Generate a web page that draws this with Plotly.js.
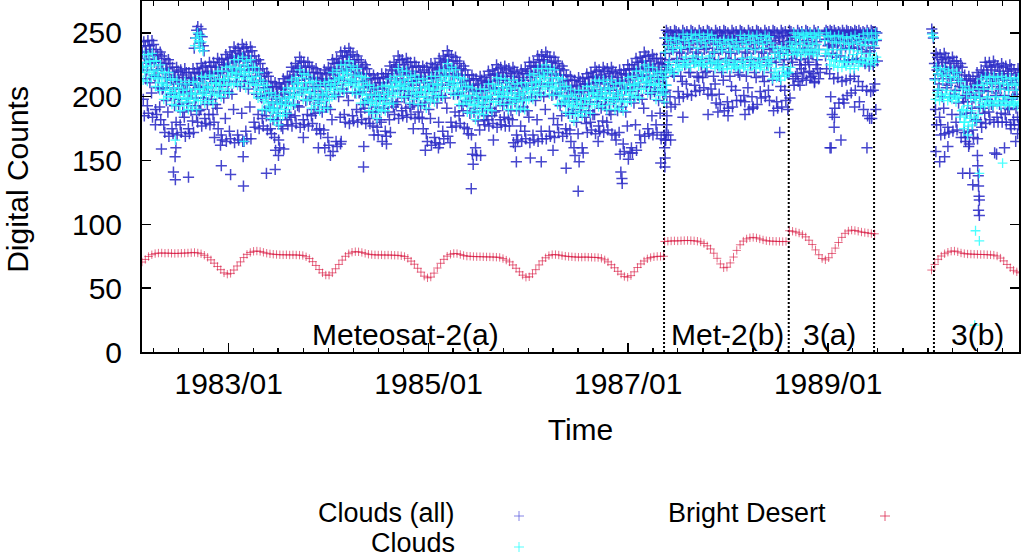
<!DOCTYPE html>
<html><head><meta charset="utf-8">
<script src="https://cdn.plot.ly/plotly-3.0.1.min.js"></script>
<style>html,body{margin:0;padding:0;background:#fff;}#chart{width:1024px;height:558px;}</style>
</head><body><div id="chart"></div>
<script>
// ---------------- DATA ----------------
const segmentLabels = ['Meteosat-2(a)', 'Met-2(b)', '3(a)', '3(b)'];
const segmentLabelDates = ['1984-10-07', '1987-12-30', '1989-01-07', '1990-07-01'];
const segmentBreaks = ['1987-05-12', '1988-08-10', '1989-06-18', '1990-01-23'];

// Bright desert: one reading every 12 days from each segment start
const desertStarts = ['1982-02-18', '1987-05-14', '1988-08-12', '1990-01-14'];
const desertA = [70.5,72.5,74.8,76.2,77.1,77.5,77.6,77.4,77.5,77.3,77.2,77.3,77.4,77.5,77.6,77.8,78.0,77.6,77.0,75.8,
74.2,72.2,69.6,67.0,64.5,62.0,61.0,61.6,64.2,67.4,70.6,74.0,76.5,78.0,78.9,79.1,78.8,78.1,77.4,76.9,
76.6,76.4,76.2,76.1,76.2,76.0,76.1,76.0,75.9,75.6,74.6,73.2,70.8,67.8,64.6,62.0,60.3,60.2,62.0,65.2,
68.6,72.0,75.0,77.0,78.2,78.6,78.5,78.0,77.3,76.6,76.3,76.1,76.0,76.1,75.9,76.0,75.9,75.8,75.7,75.4,
74.8,73.4,71.2,68.8,65.6,62.6,59.4,58.1,58.7,61.8,65.8,69.5,72.6,75.1,76.5,77.2,77.1,76.4,75.6,75.1,
75.0,74.8,74.7,74.7,74.6,74.5,74.5,74.4,74.3,74.1,73.2,72.0,70.6,68.2,65.6,62.8,60.2,58.6,58.9,61.2,
64.5,68.2,71.4,73.8,75.5,76.3,76.3,76.0,75.5,75.1,74.8,74.6,74.4,74.3,74.3,74.4,74.3,74.2,74.1,74.0,
73.4,72.2,70.6,68.4,66.0,63.2,61.0,59.2,58.6,59.8,62.8,66.2,69.0,71.3,73.0,74.0,74.6,74.9,75.0,75.0];
const desertB = [86.6,86.8,87.0,87.1,87.0,87.2,87.3,87.4,87.3,87.1,86.8,86.2,85.0,83.2,80.8,77.4,73.4,69.0,66.0,66.4,
69.8,74.4,79.6,84.0,86.9,88.6,89.5,89.8,89.4,88.6,87.8,87.2,86.9,86.8,86.7,86.6,86.5,86.6];
const desertC = [95.0,94.6,94.0,93.2,92.0,90.2,87.6,84.2,80.0,76.2,73.2,72.2,73.8,77.2,81.4,85.8,89.8,93.0,94.8,95.5,
95.2,94.6,94.0,93.6,93.2,92.8,92.6];
const desertD = [64.2,68.6,72.6,75.2,77.0,78.2,79.0,79.1,78.5,77.6,77.1,76.8,76.7,76.6,76.5,76.4,76.4,76.2,76.1,75.9,
75.2,73.6,71.4,68.6,66.0,64.0,62.8,62.0];

// Clouds: readings grouped in 15-day steps from each segment start
const cloudStarts = ['1982-02-18', '1987-05-14', '1988-12-18', '1990-01-24'];
// Clouds (all): 8 readings per step
const cloudsAllA = [
243,240,235,230,223,214,198,185, 244,240,235,229,221,211,193,187, 244,241,237,232,226,217,203,184, 237,233,227,221,216,207,190,186,
235,232,227,222,215,206,192,182, 230,226,221,215,207,197,178,172, 229,226,222,217,211,202,188,169, 223,219,213,207,202,193,175,171,
223,220,215,210,203,194,180,170, 221,217,212,206,198,188,178,172, 222,219,215,210,204,195,184,169, 219,215,209,203,198,189,175,171,
222,219,214,209,202,193,181,172, 222,218,213,207,199,189,186,180, 226,223,219,214,208,199,190,177, 224,220,214,208,203,194,183,179,
227,224,219,214,207,198,186,178, 227,223,218,212,204,194,186,180, 230,227,223,218,212,203,191,175, 229,225,219,213,208,199,170,166,
233,230,225,220,213,204,183,165, 235,231,226,220,212,202,173,167, 239,236,232,227,221,212,190,164, 238,234,228,222,217,208,170,166,
241,238,233,228,221,212,187,165, 239,235,230,224,216,206,173,167, 239,236,232,227,221,212,192,167, 232,228,222,216,211,202,180,176,
229,226,221,216,209,200,186,175, 222,218,213,207,199,189,183,177, 219,216,212,207,201,192,185,174, 212,208,202,196,191,182,175,171,
211,208,203,198,191,182,168,158, 210,206,201,195,187,177,166,160, 214,211,207,202,196,187,175,159, 216,212,206,200,195,186,182,178,
223,220,215,210,203,194,184,177, 226,222,217,211,203,193,185,179, 231,228,224,219,213,204,192,176, 227,223,217,211,206,197,182,178,
227,224,219,214,207,198,186,177, 223,219,214,208,200,190,185,179, 222,219,215,210,204,195,187,174, 218,214,208,202,197,188,175,171,
221,218,213,208,201,192,174,160, 223,219,214,208,200,190,168,162, 229,226,222,217,211,202,182,157, 230,226,220,214,209,200,165,161,
235,232,227,222,215,206,184,165, 236,232,227,221,213,203,186,180, 238,235,231,226,220,211,197,179, 233,229,223,217,212,203,185,181,
232,229,224,219,212,203,190,180, 227,223,218,212,204,194,188,182, 225,222,218,213,207,198,191,179, 218,214,208,202,197,188,183,179,
217,214,209,204,197,188,177,170, 215,211,206,200,192,182,176,170, 218,215,211,206,200,191,180,165, 218,214,208,202,197,188,173,169,
224,221,216,211,204,195,182,172, 227,223,218,212,204,194,192,186, 232,229,225,220,214,205,196,183, 229,225,219,213,208,199,189,185,
230,227,222,217,210,201,191,184, 227,223,218,212,204,194,192,186, 227,224,220,215,209,200,194,183, 223,219,213,207,202,193,188,184,
224,221,216,211,204,195,183,175, 223,219,214,208,200,190,171,165, 226,223,219,214,208,199,183,162, 225,221,215,209,204,195,168,164,
230,227,222,217,210,201,180,163, 232,228,223,217,209,199,173,167, 236,233,229,224,218,209,191,169, 232,228,222,216,211,202,180,176,
231,228,223,218,211,202,188,177, 226,222,217,211,203,193,185,179, 224,221,217,212,206,197,189,176, 217,213,207,201,196,187,175,171,
217,214,209,204,197,188,170,155, 214,210,205,199,191,181,160,154, 216,213,209,204,198,189,174,154, 215,211,205,199,194,185,182,178,
220,217,212,207,200,191,182,177, 221,217,212,206,198,188,185,179, 225,222,218,213,207,198,189,176, 223,219,213,207,202,193,182,178,
224,221,216,211,204,195,184,177, 222,218,213,207,199,189,183,177, 223,220,216,211,205,196,182,164, 219,215,209,203,198,189,170,166,
221,218,213,208,201,192,177,165, 222,218,213,207,199,189,173,167, 227,224,220,215,209,200,184,164, 227,223,217,211,206,197,170,166,
232,229,224,219,212,203,182,165, 233,229,224,218,210,200,173,167, 235,232,228,223,217,208,190,167, 231,227,221,215,210,201,173,169,
231,228,223,218,211,202,183,168, 226,222,217,211,203,193,178,172, 224,221,217,212,206,197,185,169, 217,213,207,201,196,187,175,171,
216,213,208,203,196,187,174,165, 213,209,204,198,190,180,160,154, 215,212,208,203,197,188,171,149, 214,210,204,198,193,184,160,156,
218,215,210,205,198,189,179,172, 219,215,210,204,196,186,180,174, 223,220,216,211,205,196,186,171, 221,217,211,205,200,191,177,173,
223,220,215,210,203,194,181,172, 222,218,213,207,199,189,180,174, 223,220,216,211,205,196,186,171, 219,215,209,203,198,189,170,166,
221,218,213,208,201,192,172,155, 221,217,212,206,198,188,163,157, 225,222,218,213,207,198,177,151, 225,221,215,209,204,195,160,156,
230,227,222,217,210,201,178,158, 231,227,222,216,208,198,170,164, 235,232,228,223,217,208,191,169, 232,228,222,216,211,202,175,171,
233,230,225,220,213,204,185,170, 230,226,221,215,207,197,178,172, 230,227,223,218,212,203,187,167, 225,221,215,209,204,195,170,166];
const cloudsAllB = [
252,250,246,241,234,225,205,185, 251,248,243,237,229,219,200,192, 252,251,248,244,238,230,216,194, 250,247,242,235,227,216,204,199,
252,250,246,241,234,225,212,200, 251,248,243,237,229,219,210,202, 252,251,248,244,238,230,219,201, 250,247,242,235,227,216,209,204,
252,250,246,241,234,225,215,205, 251,248,243,237,229,219,215,207, 252,251,248,244,238,230,220,202, 250,247,242,235,227,216,206,201,
252,250,246,241,234,225,210,195, 251,248,243,237,229,219,202,194, 252,251,248,244,238,230,213,189, 250,247,242,235,227,216,196,191,
252,250,246,241,234,225,208,192, 251,248,243,237,229,219,205,197, 252,251,248,244,238,230,217,197, 250,247,242,235,227,216,201,196,
252,250,246,241,234,225,207,190, 251,248,243,237,229,219,200,192, 252,251,248,244,238,230,215,194, 250,247,242,235,227,216,204,199,
252,250,246,241,234,225,212,200, 251,248,243,237,229,219,205,197, 252,251,248,244,238,230,213,189, 250,247,242,235,227,216,196,191,
252,250,246,241,234,225,208,192, 251,248,243,237,229,219,205,197, 252,251,248,244,238,230,218,199, 250,247,242,235,227,216,214,209,
252,250,246,241,234,225,218,212, 251,248,243,237,229,219,222,214, 252,251,248,244,238,230,225,213, 250,247,242,235,227,216,220,215,
252,250,246,241,234,225,218,212, 251,248,243,237,229,219,222,214];
const cloudsAllC = [
252,251,250,248,245,240,232,222, 252,251,249,246,241,234,218,200, 252,250,248,244,239,231,214,191, 251,250,248,245,240,232,215,195,
252,250,247,243,237,228,212,198, 252,251,248,244,238,229,213,201, 251,250,248,243,238,229,214,203, 252,251,249,245,239,230,216,205,
252,250,248,244,238,228,212,196, 251,250,248,243,237,226,208,190, 252,250,247,242,235,224,205,185, 252,251,248,243,236,225,204,183,
251,250,248,244,238,228,210,190];
const cloudsAllD = [
234,231,226,221,214,205,190,178, 233,229,224,218,210,200,184,178, 234,231,227,222,216,207,191,171, 230,226,220,214,209,200,176,172,
231,228,223,218,211,202,186,173, 228,224,219,213,205,195,180,174, 226,223,219,214,208,199,186,168, 217,213,207,201,196,187,172,168,
216,213,208,203,196,187,173,163, 214,210,205,199,191,181,174,168, 219,216,212,207,201,192,182,167, 221,217,211,205,200,191,180,176,
227,224,219,214,207,198,187,179, 227,223,218,212,204,194,188,182, 228,225,221,216,210,201,193,180, 224,220,214,208,203,194,184,180,
226,223,218,213,206,197,187,180, 224,220,215,209,201,191,186,180, 225,222,218,213,207,198,190,178, 221,217,211,205,200,191,182,178,
222,219,214,209,202,193,184,178];
// Clouds: 5 readings per step
const cloudsA = [
233,227,223,219,213, 233,228,224,219,212, 234,228,224,220,215, 228,221,217,214,208, 225,219,215,211,205, 219,214,210,205,198, 219,213,209,205,200, 214,207,203,200,194,
213,207,203,199,193, 210,205,201,196,189, 212,206,202,198,193, 210,203,199,196,190, 212,206,202,198,192, 211,206,202,197,190, 216,210,206,202,197, 215,208,204,201,195,
217,211,207,203,197, 216,211,207,202,195, 220,214,210,206,201, 220,213,209,206,200, 223,217,213,209,203, 224,219,215,210,203, 229,223,219,215,210, 229,222,218,215,209,
231,225,221,217,211, 228,223,219,214,207, 229,223,219,215,210, 223,216,212,209,203, 219,213,209,205,199, 211,206,202,197,190, 209,203,199,195,190, 203,196,192,189,183,
201,195,191,187,181, 199,194,190,185,178, 204,198,194,190,185, 207,200,196,193,187, 213,207,203,199,193, 215,210,206,201,194, 221,215,211,207,202, 218,211,207,204,198,
217,211,207,203,197, 212,207,203,198,191, 212,206,202,198,193, 209,202,198,195,189, 211,205,201,197,191, 212,207,203,198,191, 219,213,209,205,200, 221,214,210,207,201,
225,219,215,211,205, 225,220,216,211,204, 228,222,218,214,209, 224,217,213,210,204, 222,216,212,208,202, 216,211,207,202,195, 215,209,205,201,196, 209,202,198,195,189,
207,201,197,193,187, 204,199,195,190,183, 208,202,198,194,189, 209,202,198,195,189, 214,208,204,200,194, 216,211,207,202,195, 222,216,212,208,203, 220,213,209,206,200,
220,214,210,206,200, 216,211,207,202,195, 217,211,207,203,198, 214,207,203,200,194, 214,208,204,200,194, 212,207,203,198,191, 216,210,206,202,197, 216,209,205,202,196,
220,214,210,206,200, 221,216,212,207,200, 226,220,216,212,207, 223,216,212,209,203, 221,215,211,207,201, 215,210,206,201,194, 214,208,204,200,195, 208,201,197,194,188,
207,201,197,193,187, 203,198,194,189,182, 206,200,196,192,187, 206,199,195,192,186, 210,204,200,196,190, 210,205,201,196,189, 215,209,205,201,196, 214,207,203,200,194,
214,208,204,200,194, 211,206,202,197,190, 213,207,203,199,194, 210,203,199,196,190, 211,205,201,197,191, 211,206,202,197,190, 217,211,207,203,198, 218,211,207,204,198,
222,216,212,208,202, 222,217,213,208,201, 225,219,215,211,206, 222,215,211,208,202, 221,215,211,207,201, 215,210,206,201,194, 214,208,204,200,195, 208,201,197,194,188,
206,200,196,192,186, 202,197,193,188,181, 205,199,195,191,186, 205,198,194,191,185, 208,202,198,194,188, 208,203,199,194,187, 213,207,203,199,194, 212,205,201,198,192,
213,207,203,199,193, 211,206,202,197,190, 213,207,203,199,194, 210,203,199,196,190, 211,205,201,197,191, 210,205,201,196,189, 215,209,205,201,196, 216,209,205,202,196,
220,214,210,206,200, 220,215,211,206,199, 225,219,215,211,206, 223,216,212,209,203, 223,217,213,209,203, 219,214,210,205,198, 220,214,210,206,201, 216,209,205,202,196];
const cloudsB = [
246,240,235,224,219, 244,238,227,222,220, 246,241,236,225,218, 245,239,228,223,221, 249,244,238,228,224, 247,242,231,226,225, 249,245,239,229,223, 248,243,232,227,226,
249,244,238,228,224, 247,242,231,226,225, 249,245,239,229,223, 248,243,232,227,226, 245,240,235,226,222, 243,238,228,224,223, 245,241,236,227,221, 244,239,229,225,222,
245,240,235,226,222, 243,238,228,224,223, 248,243,237,227,222, 246,241,230,225,223, 248,244,238,228,221, 247,242,231,226,224, 248,243,237,227,222, 246,241,230,225,223,
248,244,238,228,221, 247,242,231,226,224, 239,234,229,219,214, 237,232,222,217,215, 239,235,230,220,213, 238,233,223,218,216, 243,238,233,223,219, 250,247,240,237,233,
249,246,242,236,234, 250,248,241,237,232, 249,247,243,236,234, 250,247,240,237,233, 249,246,242,236,234, 250,248,241,237,232];
const cloudsC = [
250,247,244,237,234, 248,243,233,229,225, 247,242,237,228,224, 248,243,233,228,223, 247,242,237,227,223, 246,241,231,227,224, 247,242,237,227,222,
248,243,233,228,222, 246,241,236,227,224, 249,244,234,230,227, 250,245,240,230,226, 249,244,234,229,225, 250,245,240,231,227];
const cloudsD = [
223,218,213,203,198, 221,216,206,201,197, 222,217,212,202,199, 220,215,205,200,197, 221,216,211,201,198, 219,214,204,199,196, 212,206,200,189,184,
208,202,190,185,180, 205,199,193,183,177, 206,200,189,184,178, 209,203,197,186,181, 214,209,199,195,192, 216,211,206,197,193, 215,210,200,196,194,
216,211,206,197,193, 215,210,200,196,194, 216,211,206,197,193, 214,209,200,196,194, 215,210,205,196,193, 214,209,199,195,194, 215,210,205,196,193];

// isolated readings away from the main bands
const cloudsAllExtraDates = ['1982-04-08','1982-04-30','1982-06-13','1982-06-19','1982-06-20','1982-06-22','1982-08-07','1982-11-10','1982-12-02','1982-12-05',
'1983-01-08','1983-02-23','1983-02-24','1983-02-26','1983-05-19','1983-06-20','1983-07-02','1983-10-01','1983-11-25','1984-01-08',
'1984-02-14','1984-05-08','1984-05-09','1984-07-31','1984-11-06','1984-12-20','1985-02-06','1985-03-21','1985-06-06','1985-06-13',
'1985-08-26','1985-11-14','1985-11-18','1986-01-08','1986-02-17','1986-04-01','1986-05-19','1986-07-02','1986-09-13','1986-12-05',
'1986-12-09','1986-12-10','1987-01-08','1987-04-30',
'1982-08-28','1982-09-02','1982-09-06','1982-09-10','1982-09-14','1982-09-18','1982-09-22','1982-09-26','1982-09-30','1982-10-03',
'1987-05-14','1987-05-15','1987-05-16','1987-05-18','1987-05-20','1987-05-22','1987-05-27','1987-06-05','1987-07-20','1987-10-20',
'1987-11-25','1988-01-01','1988-03-03','1988-04-01','1988-07-08','1988-08-07','1988-09-20','1988-11-12',
'1989-01-08','1989-01-12','1989-01-16','1989-01-23','1989-01-24','1989-02-17','1989-02-28','1989-04-08','1989-05-23','1989-06-02','1989-06-15',
'1990-01-15','1990-01-18','1990-01-21','1990-01-30','1990-02-13','1990-02-17','1990-03-03','1990-03-15','1990-05-08','1990-05-19',
'1990-05-30','1990-06-03','1990-06-14','1990-07-01','1990-07-02','1990-07-04','1990-07-05','1990-07-07','1990-07-08','1990-07-05',
'1990-07-08','1990-09-02','1990-09-09','1990-10-08','1990-11-01','1990-11-18','1990-11-25'];
const cloudsAllExtraValues = [178,159,141,153,135,160,137,168,162,146,
139,153,130,165,140,143,154,168,160,154,
163,145,161,163,175,158,160,164,128,147,
166,161,149,152,149,158,144,126,165,141,
136,132,156,148,
238,246,252,255,249,242,253,247,240,236,
160,145,152,166,172,178,170,166,184,186,
188,185,186,191,172,190,209,211,
160,160,186,176,184,166,195,192,160,183,205,
253,250,246,157,149,170,153,161,140,165,
161,140,131,154,146,138,130,122,119,111,
107,156,155,160,175,165,171];
const cloudsExtraDates = ['1982-06-20','1983-02-25','1982-08-30','1982-09-04','1982-09-09','1982-09-13','1982-09-17','1982-09-21','1982-09-25','1982-09-29',
'1990-01-15','1990-01-21','1990-05-12','1990-05-15','1990-05-26','1990-06-24','1990-06-21','1990-07-08','1990-07-08','1990-10-01'];
const cloudsExtraValues = [166,165,240,246,250,244,238,248,243,236,
249,247,175,180,170,95,21,87,140,148];

// ---------------- BUILD ----------------
const DAY = 86400000;
function shiftDate(iso, days) {
  const t = Date.parse(iso + 'T00:00:00Z') + days * DAY;
  return new Date(t).toISOString().slice(0, 16).replace('T', ' ');
}
function desertSeries(starts, segs, stepDays) {
  const x = [], y = [];
  segs.forEach((vals, s) => vals.forEach((v, i) => { x.push(shiftDate(starts[s], i * stepDays)); y.push(v); }));
  return {x, y};
}
function cloudSeries(starts, segs, perStep, order, stepDays, extraDates, extraValues) {
  const x = [], y = [];
  segs.forEach((vals, s) => vals.forEach((v, j) => {
    const step = Math.floor(j / perStep), k = j % perStep;
    x.push(shiftDate(starts[s], step * stepDays + (order[k] + 0.5) * stepDays / perStep));
    y.push(v);
  }));
  extraDates.forEach((d, i) => { x.push(d); y.push(extraValues[i]); });
  return {x, y};
}
const allS = cloudSeries(cloudStarts, [cloudsAllA, cloudsAllB, cloudsAllC, cloudsAllD], 8, [3,6,0,5,1,7,2,4], 15, cloudsAllExtraDates, cloudsAllExtraValues);
const cldS = cloudSeries(cloudStarts, [cloudsA, cloudsB, cloudsC, cloudsD], 5, [2,4,0,3,1], 15, cloudsExtraDates, cloudsExtraValues);
const desS = desertSeries(desertStarts, [desertA, desertB, desertC, desertD], 12);

const BLUE = 'rgba(44,44,198,0.88)';
const CYAN = 'rgba(45,255,255,0.85)';
const RED = 'rgba(215,18,60,0.62)';
const FONT = 'Liberation Sans, Arial, Helvetica, sans-serif';

function mk(series, name, color, size, lw) {
  return {type: 'scatter', mode: 'markers', name: name, x: series.x, y: series.y, showlegend: false, hoverinfo: 'skip',
    marker: {symbol: 'cross-thin', size: size, color: color, line: {color: color, width: lw}}};
}
const traces = [mk(allS, 'Clouds (all)', BLUE, 8, 1.5), mk(cldS, 'Clouds', CYAN, 7, 1.3), mk(desS, 'Bright Desert', RED, 6, 1)];

// layout helpers (pixel -> paper), plot area x 142..1019, y 1..352
const L = 142, W = 877, T = 1, H = 351;
const px = X => (X - L) / W, py = Y => (T + H - Y) / H;
function plus(X, Y, color) {
  return [
    {type: 'line', xref: 'paper', yref: 'paper', x0: px(X - 5), x1: px(X + 5), y0: py(Y), y1: py(Y), line: {color: color, width: 1}},
    {type: 'line', xref: 'paper', yref: 'paper', x0: px(X), x1: px(X), y0: py(Y - 5), y1: py(Y + 5), line: {color: color, width: 1}}
  ];
}
const shapes = segmentBreaks.map(d => ({type: 'line', xref: 'x', yref: 'y', x0: d, x1: d, y0: 0, y1: 255, layer: 'below',
  line: {color: 'black', width: 2, dash: '2px,2px'}}))
  .concat(plus(519, 516, 'rgba(80,80,220,0.7)'), plus(519, 547, 'rgba(40,255,255,0.8)'), plus(885, 516, 'rgba(215,18,60,0.7)'));

const legendFont = {size: 27, family: FONT, color: 'black'};
const annotations = segmentLabels.map((t, i) => ({text: t, x: segmentLabelDates[i], y: 13.7, xref: 'x', yref: 'y',
  showarrow: false, xanchor: 'center', yanchor: 'middle', font: {size: 30, color: 'black', family: FONT}}))
  .concat([
    {text: 'Clouds (all)', x: px(456), y: py(512.5), xref: 'paper', yref: 'paper', showarrow: false, xanchor: 'right', yanchor: 'middle', borderpad: 0, font: legendFont},
    {text: 'Clouds', x: px(456), y: py(542.8), xref: 'paper', yref: 'paper', showarrow: false, xanchor: 'right', yanchor: 'middle', borderpad: 0, font: legendFont},
    {text: 'Bright Desert', x: px(827), y: py(512.5), xref: 'paper', yref: 'paper', showarrow: false, xanchor: 'right', yanchor: 'middle', borderpad: 0, font: legendFont},
    {text: 'Digital Counts', textangle: -90, x: px(16.8), y: py(179), xref: 'paper', yref: 'paper', showarrow: false, xanchor: 'center', yanchor: 'middle', borderpad: 0, font: {size: 30, family: FONT, color: 'black'}}
  ]);

const axisCommon = {showgrid: false, zeroline: false, showline: true, linecolor: 'black', linewidth: 2, mirror: 'allticks',
  ticks: 'inside', ticklen: 9, tickwidth: 1.5, tickcolor: 'black', tickfont: {size: 30, family: FONT, color: 'black'}};

const layout = {
  width: 1024, height: 558, margin: {l: L, r: 1024 - L - W, t: T, b: 558 - T - H, pad: 0},
  paper_bgcolor: 'white', plot_bgcolor: 'white', showlegend: false,
  font: {family: FONT, size: 30, color: 'black'},
  xaxis: Object.assign({}, axisCommon, {type: 'date', range: ['1982-02-18', '1990-11-30'], dtick: 'M24', tick0: '1983-01-01',
    tickformat: '%Y/%m', ticklabelstandoff: 4,
    minor: {ticks: 'inside', ticklen: 4.5, dtick: 'M3', tick0: '1983-01-01', tickcolor: 'black', tickwidth: 1.5, showgrid: false},
    title: {text: 'Time', standoff: 20, font: {size: 30, family: FONT}}}),
  yaxis: Object.assign({}, axisCommon, {range: [0, 275], dtick: 50, tick0: 0, ticklabelstandoff: 12}),
  shapes: shapes, annotations: annotations
};
Plotly.newPlot('chart', traces, layout, {staticPlot: true, displayModeBar: false});
</script></body></html>
